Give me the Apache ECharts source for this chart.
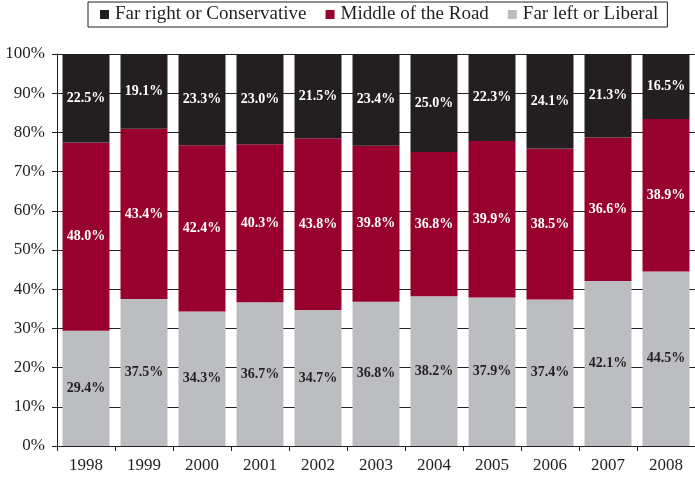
<!DOCTYPE html>
<html>
<head>
<meta charset="utf-8">
<script src="https://cdn.jsdelivr.net/npm/echarts@6/dist/echarts.min.js"></script>
<style>
  html, body { margin: 0; padding: 0; background: #fff; }
  #chart { width: 695px; height: 478px; }
</style>
</head>
<body>
<div id="chart"></div>
<script>
// Survey years
const years = ['1998', '1999', '2000', '2001', '2002', '2003', '2004', '2005', '2006', '2007', '2008'];

// Share of respondents per political view (percent)
const liberal      = [29.4, 37.5, 34.3, 36.7, 34.7, 36.8, 38.2, 37.9, 37.4, 42.1, 44.5];
const middle       = [48.0, 43.4, 42.4, 40.3, 43.8, 39.8, 36.8, 39.9, 38.5, 36.6, 38.9];
const conservative = [22.5, 19.1, 23.3, 23.0, 21.5, 23.4, 25.0, 22.3, 24.1, 21.3, 16.5];

// Y-axis tick labels
const yTicks = [0, 10, 20, 30, 40, 50, 60, 70, 80, 90, 100];

const serif = '"Liberation Serif", "DejaVu Serif", serif';

function seriesOf(name, data, color, labelColor) {
  return {
    name: name,
    type: 'bar',
    stack: 'total',
    data: data,
    barCategoryGap: '19%',
    itemStyle: { color: color },
    label: {
      show: true,
      position: 'inside',
      formatter: p => p.value.toFixed(1) + '%',
      color: labelColor,
      fontFamily: serif,
      fontWeight: 'bold',
      fontSize: 14
    }
  };
}

const chart = echarts.init(document.getElementById('chart'), null, { renderer: 'canvas' });
chart.setOption({
  animation: false,
  backgroundColor: '#ffffff',
  legend: {
    left: 88,
    top: 2,
    padding: [3, 9, 3, 12],
    borderColor: '#231f20',
    borderWidth: 1,
    itemWidth: 9,
    itemHeight: 9,
    itemGap: 19,
    icon: 'rect',
    textStyle: { fontFamily: serif, fontSize: 19, color: '#231f20', padding: [0, 0, 0, 1] },
    data: ['Far right or Conservative', 'Middle of the Road', 'Far left or Liberal']
  },
  grid: { left: 57, right: -3, top: 54, bottom: 32, containLabel: false },
  xAxis: {
    type: 'category',
    data: years,
    axisLine: { lineStyle: { color: '#231f20', width: 1 } },
    axisTick: { show: true, length: 5, inside: false, lineStyle: { color: '#231f20' } },
    axisLabel: { fontFamily: serif, fontSize: 17, color: '#231f20', margin: 11 }
  },
  yAxis: {
    type: 'value',
    min: yTicks[0],
    max: yTicks[yTicks.length - 1],
    interval: 10,
    axisLine: { show: true, lineStyle: { color: '#231f20', width: 1 } },
    axisTick: { show: true, length: 5, lineStyle: { color: '#231f20' } },
    axisLabel: { fontFamily: serif, fontSize: 17, color: '#231f20', margin: 12, formatter: v => v + '%' },
    splitLine: { show: true, lineStyle: { color: '#231f20', width: 1 } }
  },
  series: [
    seriesOf('Far left or Liberal', liberal, '#bcbdc0', '#231f20'),
    seriesOf('Middle of the Road', middle, '#98002e', '#ffffff'),
    seriesOf('Far right or Conservative', conservative, '#231f20', '#ffffff')
  ]
});
</script>
</body>
</html>
